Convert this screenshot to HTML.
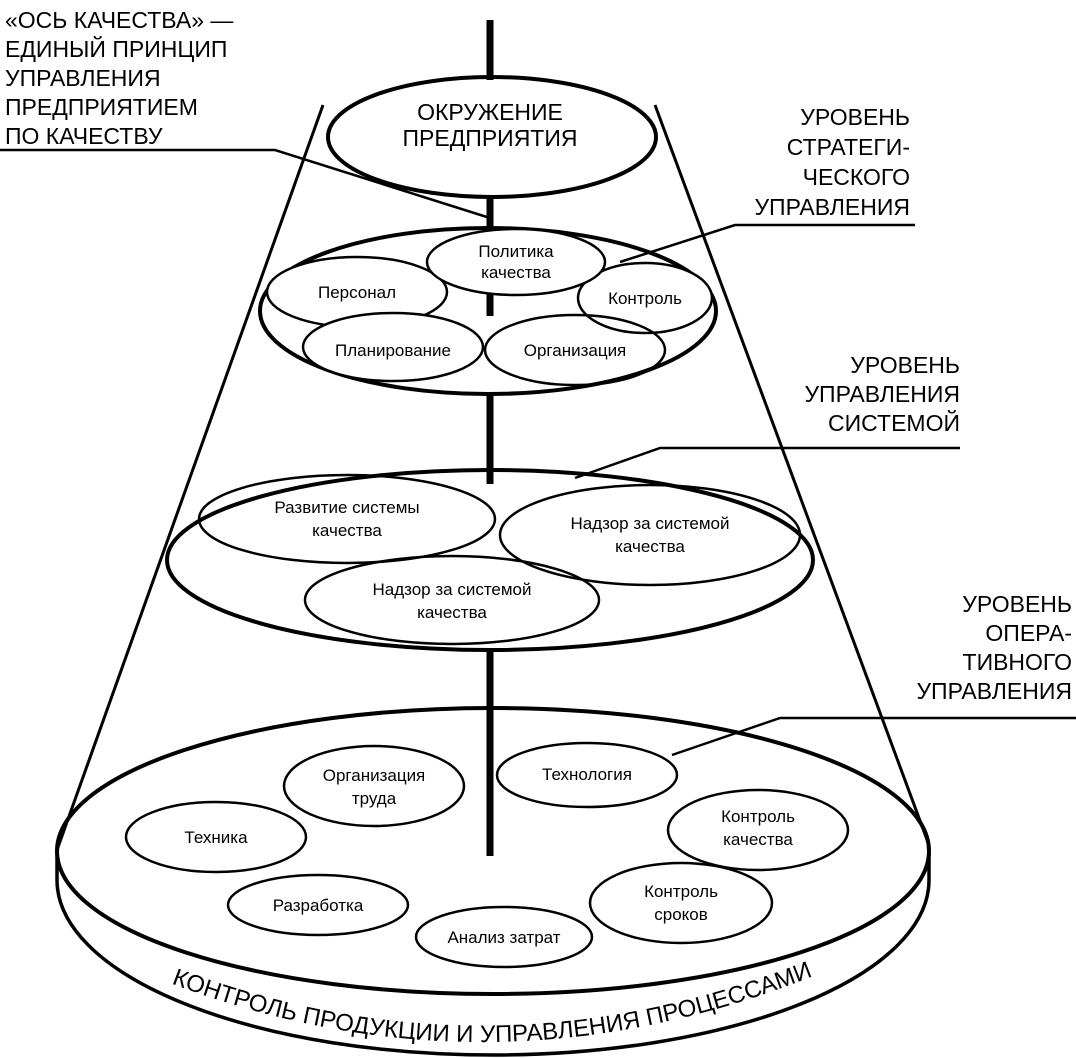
<!DOCTYPE html>
<html><head><meta charset="utf-8"><style>
html,body{margin:0;padding:0;background:#fff;}
svg{display:block}
text{font-family:"Liberation Sans Narrow","Liberation Sans",sans-serif;fill:#000}
.h{font-size:23px}
.s{font-size:17px}
</style></head><body>
<svg width="1076" height="1058" viewBox="0 0 1076 1058" xmlns="http://www.w3.org/2000/svg">
<g fill="none" stroke="#000">
<line x1="323" y1="105" x2="57" y2="850" stroke-width="3"/>
<line x1="655" y1="105" x2="929" y2="845" stroke-width="3"/>
<g stroke-width="7">
<line x1="490" y1="20" x2="490" y2="80"/>
<line x1="490" y1="194" x2="490" y2="232"/>
<line x1="490" y1="285" x2="490" y2="316"/>
<line x1="490" y1="395" x2="490" y2="484"/>
<line x1="490" y1="648" x2="490" y2="856"/>
</g>
<ellipse cx="492" cy="137" rx="164" ry="60" fill="#fff" stroke-width="4"/>
<line x1="490" y1="20" x2="490" y2="80" stroke-width="7"/>
<ellipse cx="488" cy="311" rx="228" ry="83" stroke-width="4"/>
<ellipse cx="490" cy="560" rx="323" ry="90" stroke-width="4"/>
<path d="M57 851 L57 880 A436 175 0 0 0 929 880 L929 851" stroke-width="3.5"/>
<ellipse cx="493" cy="851" rx="436" ry="143" stroke-width="4"/>
<g stroke-width="2.5">
<ellipse cx="357" cy="292" rx="90" ry="35" fill="#fff"/>
<ellipse cx="645" cy="298" rx="67" ry="35" fill="#fff"/>
<ellipse cx="516" cy="262" rx="89" ry="33" fill="#fff"/>
<ellipse cx="393" cy="347" rx="90" ry="34" fill="#fff"/>
<ellipse cx="575" cy="350" rx="90" ry="35" fill="none"/>
<ellipse cx="347" cy="519" rx="148" ry="44"/>
<ellipse cx="650" cy="535" rx="150" ry="50"/>
<ellipse cx="452" cy="600" rx="147" ry="44"/>
<ellipse cx="374" cy="786" rx="90" ry="40"/>
<ellipse cx="587" cy="775" rx="90" ry="32"/>
<ellipse cx="216" cy="837" rx="90" ry="35"/>
<ellipse cx="758" cy="830" rx="90" ry="40"/>
<ellipse cx="318" cy="905" rx="90" ry="30"/>
<ellipse cx="681" cy="903" rx="91" ry="40"/>
<ellipse cx="504" cy="937" rx="88" ry="30"/>
</g>
<g stroke-width="2.5">
<polyline points="0,150 275,150 490,218"/>
<polyline points="915,225 735,225 620,262"/>
<polyline points="960,448 660,448 575,478"/>
<polyline points="1076,718 780,718 672,755"/>
</g>
</g>
<g class="h">
<text x="5" y="28">«ОСЬ КАЧЕСТВА» —</text>
<text x="5" y="57">ЕДИНЫЙ ПРИНЦИП</text>
<text x="5" y="86">УПРАВЛЕНИЯ</text>
<text x="5" y="115">ПРЕДПРИЯТИЕМ</text>
<text x="5" y="144">ПО КАЧЕСТВУ</text>
<g text-anchor="middle">
<text x="490" y="120">ОКРУЖЕНИЕ</text>
<text x="490" y="146">ПРЕДПРИЯТИЯ</text>
</g>
<g text-anchor="end">
<text x="910" y="125">УРОВЕНЬ</text>
<text x="910" y="155">СТРАТЕГИ-</text>
<text x="910" y="185">ЧЕСКОГО</text>
<text x="910" y="215">УПРАВЛЕНИЯ</text>
<text x="960" y="373">УРОВЕНЬ</text>
<text x="960" y="402">УПРАВЛЕНИЯ</text>
<text x="960" y="431">СИСТЕМОЙ</text>
<text x="1072" y="612">УРОВЕНЬ</text>
<text x="1072" y="641">ОПЕРА-</text>
<text x="1072" y="670">ТИВНОГО</text>
<text x="1072" y="699">УПРАВЛЕНИЯ</text>
</g>
</g>
<g class="s" text-anchor="middle">
<text x="516" y="257">Политика</text>
<text x="516" y="278">качества</text>
<text x="357" y="298">Персонал</text>
<text x="645" y="304">Контроль</text>
<text x="393" y="356">Планирование</text>
<text x="575" y="356">Организация</text>
<text x="347" y="513">Развитие системы</text>
<text x="347" y="536">качества</text>
<text x="650" y="529">Надзор за системой</text>
<text x="650" y="552">качества</text>
<text x="452" y="595">Надзор за системой</text>
<text x="452" y="618">качества</text>
<text x="374" y="781">Организация</text>
<text x="374" y="804">труда</text>
<text x="587" y="780">Технология</text>
<text x="216" y="843">Техника</text>
<text x="758" y="822">Контроль</text>
<text x="758" y="845">качества</text>
<text x="318" y="911">Разработка</text>
<text x="681" y="897">Контроль</text>
<text x="681" y="920">сроков</text>
<text x="504" y="943">Анализ затрат</text>
</g>
<defs><path id="arc" d="M128 966 Q490 1122 856 958"/></defs>
<text style="font-size:24px"><textPath href="#arc" startOffset="50%" text-anchor="middle">КОНТРОЛЬ ПРОДУКЦИИ И УПРАВЛЕНИЯ ПРОЦЕССАМИ</textPath></text>
</svg>
</body></html>
